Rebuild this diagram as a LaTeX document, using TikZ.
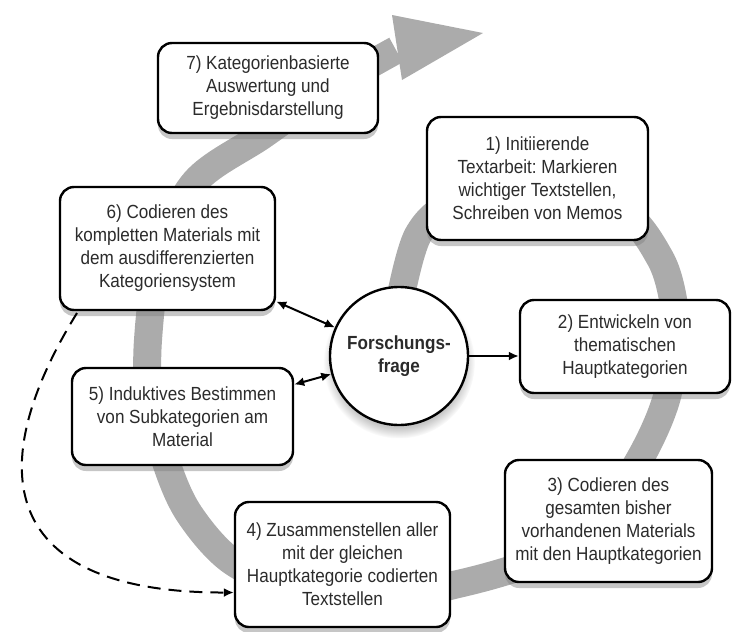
\documentclass[tikz,border=0pt]{standalone}
\usepackage{fontspec}
\setmainfont{Liberation Sans}[FakeStretch=0.9]
\usepackage{tikz}
\usetikzlibrary{arrows.meta,positioning,calc,shadows}
\definecolor{ringgray}{HTML}{ABABAB}
\definecolor{boxtext}{HTML}{2B2B2B}
\frenchspacing
\tikzset{
  stepbox/.style={draw,line width=1.2pt,rounded corners=7pt,fill=white,align=center,
    font=\fontsize{9.5}{11.5}\selectfont,text=boxtext,inner sep=2pt,
    drop shadow={shadow xshift=0pt,shadow yshift=-3pt,opacity=0.45}},
  link/.style={line width=1pt,{Latex[length=5pt,width=4.5pt]}-{Latex[length=5pt,width=4.5pt]}}
}

\begin{document}
\begin{tikzpicture}[x=0.5pt,y=-0.5pt]
  \useasboundingbox (0,0) rectangle (734,632);
  % grey cycle behind the steps
  \draw[ringgray,line width=14pt] plot[smooth,tension=0.55] coordinates {
    (400,300) (418,235) (455,203) (535,190) (620,210) (660,258) (674,305) (675,345)
    (666,400) (642,455) (600,520) (560,552) (510,570) (458,584) (380,600) (300,590)
    (233,562) (190,515) (167,465) (150,400) (148,340) (160,255) (195,182) (263,135)
    (330,88) (396,50)};
  \fill[ringgray] (392,15) -- (483,33) -- (402,80) -- cycle;

  \node[stepbox,minimum width=110pt,minimum height=45pt] (s7) at (268,88)
    {7) Kategorienbasierte\\Auswertung und\\Ergebnisdarstellung};
  \node[stepbox,minimum width=110.5pt,minimum height=61.5pt] (s1) at (537.5,178.5)
    {1) Initiierende\\Textarbeit: Markieren\\wichtiger Textstellen,\\Schreiben von Memos};
  \node[stepbox,minimum width=105pt,minimum height=46.5pt] (s2) at (625,346.5)
    {2) Entwickeln von\\thematischen\\Hauptkategorien};
  \node[stepbox,minimum width=103.5pt,minimum height=61pt] (s3) at (608.5,521)
    {3) Codieren des\\gesamten bisher\\vorhandenen Materials\\mit den Hauptkategorien};
  \node[stepbox,minimum width=107.5pt,minimum height=62.5pt] (s4) at (342.5,564.5)
    {4) Zusammenstellen aller\\mit der gleichen\\Hauptkategorie codierten\\Textstellen};
  \node[stepbox,minimum width=110.5pt,minimum height=48.5pt] (s5) at (182.5,416.5)
    {5) Induktives Bestimmen\\von Subkategorien am\\Material};
  \node[stepbox,minimum width=107.5pt,minimum height=61.5pt] (s6) at (167.5,248.5)
    {6) Codieren des\\kompletten Materials mit\\dem ausdifferenzierten\\Kategoriensystem};
  \node[circle,draw,line width=1.2pt,fill=white,minimum size=69pt,align=center,
    font=\fontsize{9.5}{11.5}\selectfont\bfseries,text=boxtext,
    circular drop shadow={shadow xshift=0pt,shadow yshift=-3pt,opacity=0.45}] (fq) at (399,356)
    {Forschungs-\\frage};

  \draw[link] (s6.-26) -- (fq.156);
  \draw[link] (s5.16) -- (fq.195);
  \draw[line width=1pt,-{Latex[length=5pt,width=4.5pt]}] (fq.east) -- (fq.east -| s2.west);
  \coordinate (d0) at (77,313);
  \coordinate (d1) at ($(s4.west)+(0,28)$);
  \draw[line width=1pt,dash pattern=on 6.5pt off 4pt,-{Latex[length=5pt,width=4.5pt]}]
    (d0) .. controls (-20,470) and (0,593) .. (d1);
\end{tikzpicture}
\end{document}
